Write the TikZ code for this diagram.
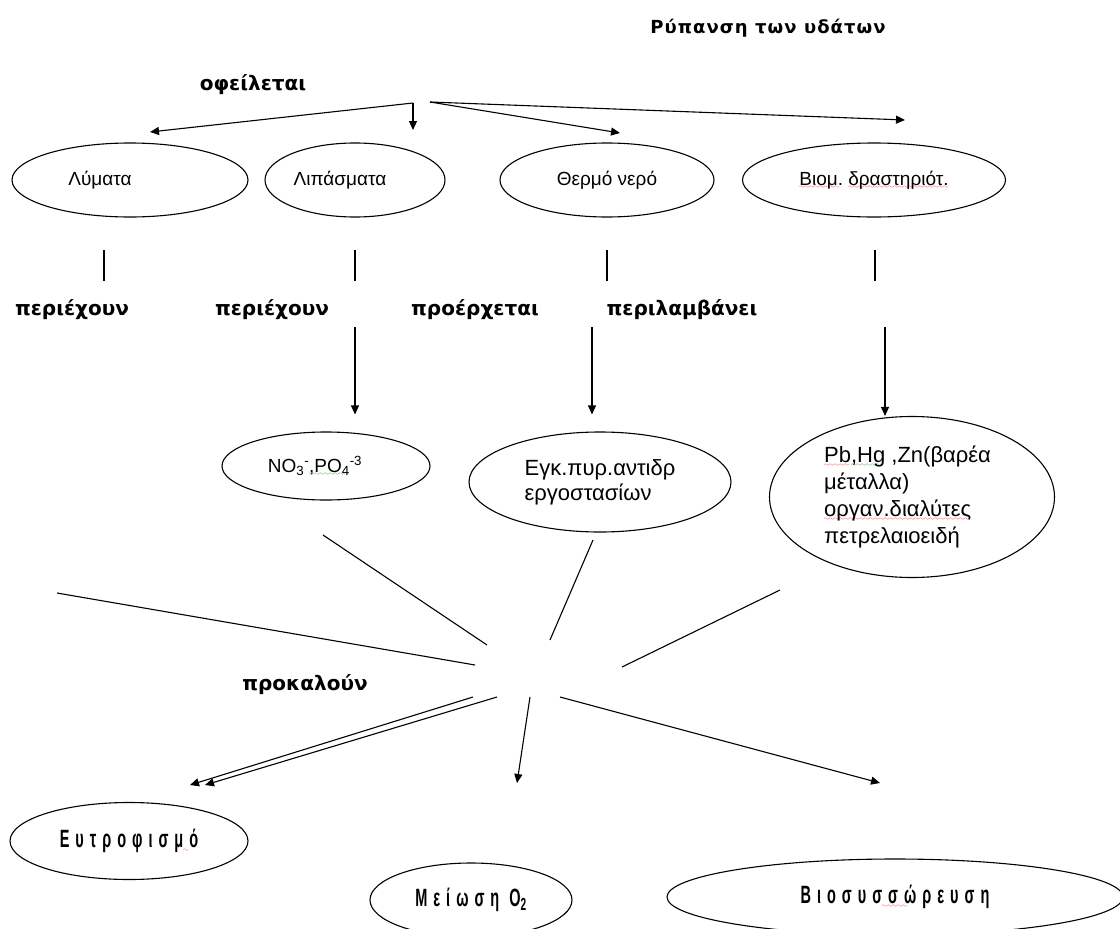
\documentclass[tikz,border=0pt]{standalone}
\usepackage{fontspec}
\setmainfont{Liberation Sans}
\newfontfamily\boldfont{DejaVu Sans Bold}
\newfontfamily\titlefont[LetterSpace=6]{DejaVu Sans Bold}
\newfontfamily\narrowfont[LetterSpace=24, FakeStretch=0.58]{Liberation Sans Bold}
\usetikzlibrary{arrows.meta, positioning, calc, shapes.geometric}
\font\wavefont=lasy6
% spelling squiggle under a word
\newcommand\spell[2]{\setbox0\hbox{#2}\rlap{\lower3.5pt\hbox to \wd0{\color{#1}\leaders\hbox{\wavefont\char58}\hfill}}\box0\relax}
% squiggle under a part of a word: colour, before, marked, after
\newcommand\spellmid[4]{\setbox1\hbox{#2}\setbox0\hbox{#3}\rlap{\hskip\wd1\lower3.5pt\hbox to \wd0{\color{#1}\leaders\hbox{\wavefont\char58}\hfill}}#2#3#4}

\begin{document}
\begin{tikzpicture}[x=1pt, y=-1pt,
    blob/.style={ellipse, draw, line width=1.1pt, inner sep=0pt, font=\fontsize{19}{25}\selectfont},
    verb/.style={font=\boldfont\fontsize{20}{23}\selectfont},
    effect/.style={blob, font=\narrowfont\fontsize{25}{28}\selectfont},
    arr/.style={-{Triangle[length=9pt,width=8pt]}, line width=1.1pt},
    link/.style={line width=1.1pt}]
    \useasboundingbox (0,0) rectangle (1120,929);

    % title and first verb
    \node[font=\titlefont\fontsize{18}{20}\selectfont] (title) at (768,28) {Ρύπανση των υδάτων};
    \node[verb] (ofeil) at (253,85) {οφείλεται};

    % sources
    \node[blob, minimum width=236, minimum height=74] (lymata) at (130,180) {Λύματα\hspace*{60pt}};
    \node[blob, minimum width=180, minimum height=74] (lipasm) at (355,180) {Λιπάσματα\hspace*{30pt}};
    \node[blob, minimum width=214, minimum height=74] (thermo) at (607,180) {Θερμό νερό};
    \node[blob, minimum width=263, minimum height=74] (viom) at (874,180) {\spell{red}{Βιομ.} \spell{red}{δραστηριότ.}};

    \coordinate (oA) at (413,103);
    \coordinate (oB) at (430,102);
    \coordinate (tA) at (150,132);
    \coordinate (tB) at (413,130);
    \coordinate (tC) at (620,133);
    \coordinate (tD) at (905,120);
    \draw[arr] (oA) -- (tA);
    \draw[arr] (oA) -- (tB);
    \draw[arr] (oB) -- (tC);
    \draw[arr] (oB) -- (tD);

    % short stubs under the sources
    \foreach \x/\n in {104/a, 355/b, 607/c, 875/d} {
        \coordinate (s\n) at (\x,250);
        \coordinate (e\n) at (\x,281);
        \draw[link] (s\n) -- (e\n);
    }

    \node[verb] (periex1) at (72,310) {περιέχουν};
    \node[verb] (periex2) at (272,310) {περιέχουν};
    \node[verb] (proerx) at (475,310) {προέρχεται};
    \node[verb] (perilam) at (682,310) {περιλαμβάνει};

    % what they contain
    \node[blob, minimum width=208, minimum height=68] (ions) at (326,466)
        {NO\textsubscript{3}\textsuperscript{-}\spell{green!55!black}{,PO\textsubscript{4}}\textsuperscript{-3}\hspace*{22pt}};
    \node[blob, minimum width=262, minimum height=100, align=left, font=\fontsize{22}{25}\selectfont] (egk) at (600,482)
        {Εγκ.πυρ.αντιδρ\\εργοστασίων};
    \node[blob, minimum width=285, minimum height=161, align=left, font=\fontsize{22}{27}\selectfont] (metal) at (912,497)
        {\spell{red}{Pb}\spell{green!55!black}{,Hg} ,Zn(βαρέα\\μέταλλα)\\\spell{red}{οργαν.διαλύτες}\\πετρελαιοειδή\hspace*{40pt}};

    \coordinate (dB) at (355,327);
    \coordinate (dC) at (592,327);
    \coordinate (dD) at (885,327);
    \draw[arr] (dB) -- ($(ions.north -| dB)+(0,-17)$);
    \draw[arr] (dC) -- ($(egk.north -| dC)+(0,-17)$);
    \draw[arr] (dD) -- (metal.north -| dD);

    % lines meeting in the middle
    \coordinate (m1) at (323,535);
    \coordinate (n1) at (487,645);
    \coordinate (m2) at (57,593);
    \coordinate (n2) at (475,665);
    \coordinate (m3) at (593,540);
    \coordinate (n3) at (550,640);
    \coordinate (m4) at (780,590);
    \coordinate (n4) at (622,667);
    \draw[link] (m1) -- (n1);
    \draw[link] (m2) -- (n2);
    \draw[link] (m3) -- (n3);
    \draw[link] (m4) -- (n4);

    \node[verb] (prokal) at (305,685) {προκαλούν};

    % effects
    \node[effect, minimum width=238, minimum height=77] (eutro) at (129,841) {\spellmid{red}{Ευτροφισμ}{ό}{}};
    \node[effect, minimum width=202, minimum height=74] (meiosi) at (471,900) {\spellmid{red}{Με}{ί}{ωση} O\textsubscript{2}};
    \node[effect, minimum width=456, minimum height=76] (biosys) at (895,897) {\spellmid{red}{Βιοσυσ}{σώ}{ρευση}};

    \coordinate (p1) at (473,697);
    \coordinate (p2) at (497,697);
    \coordinate (p3) at (530,697);
    \coordinate (p4) at (560,697);
    \coordinate (q1) at (190,785);
    \coordinate (q2) at (205,785);
    \coordinate (q3) at (517,783);
    \coordinate (q4) at (880,783);
    \draw[arr] (p1) -- (q1);
    \draw[arr] (p2) -- (q2);
    \draw[arr] (p3) -- (q3);
    \draw[arr] (p4) -- (q4);
\end{tikzpicture}
\end{document}
